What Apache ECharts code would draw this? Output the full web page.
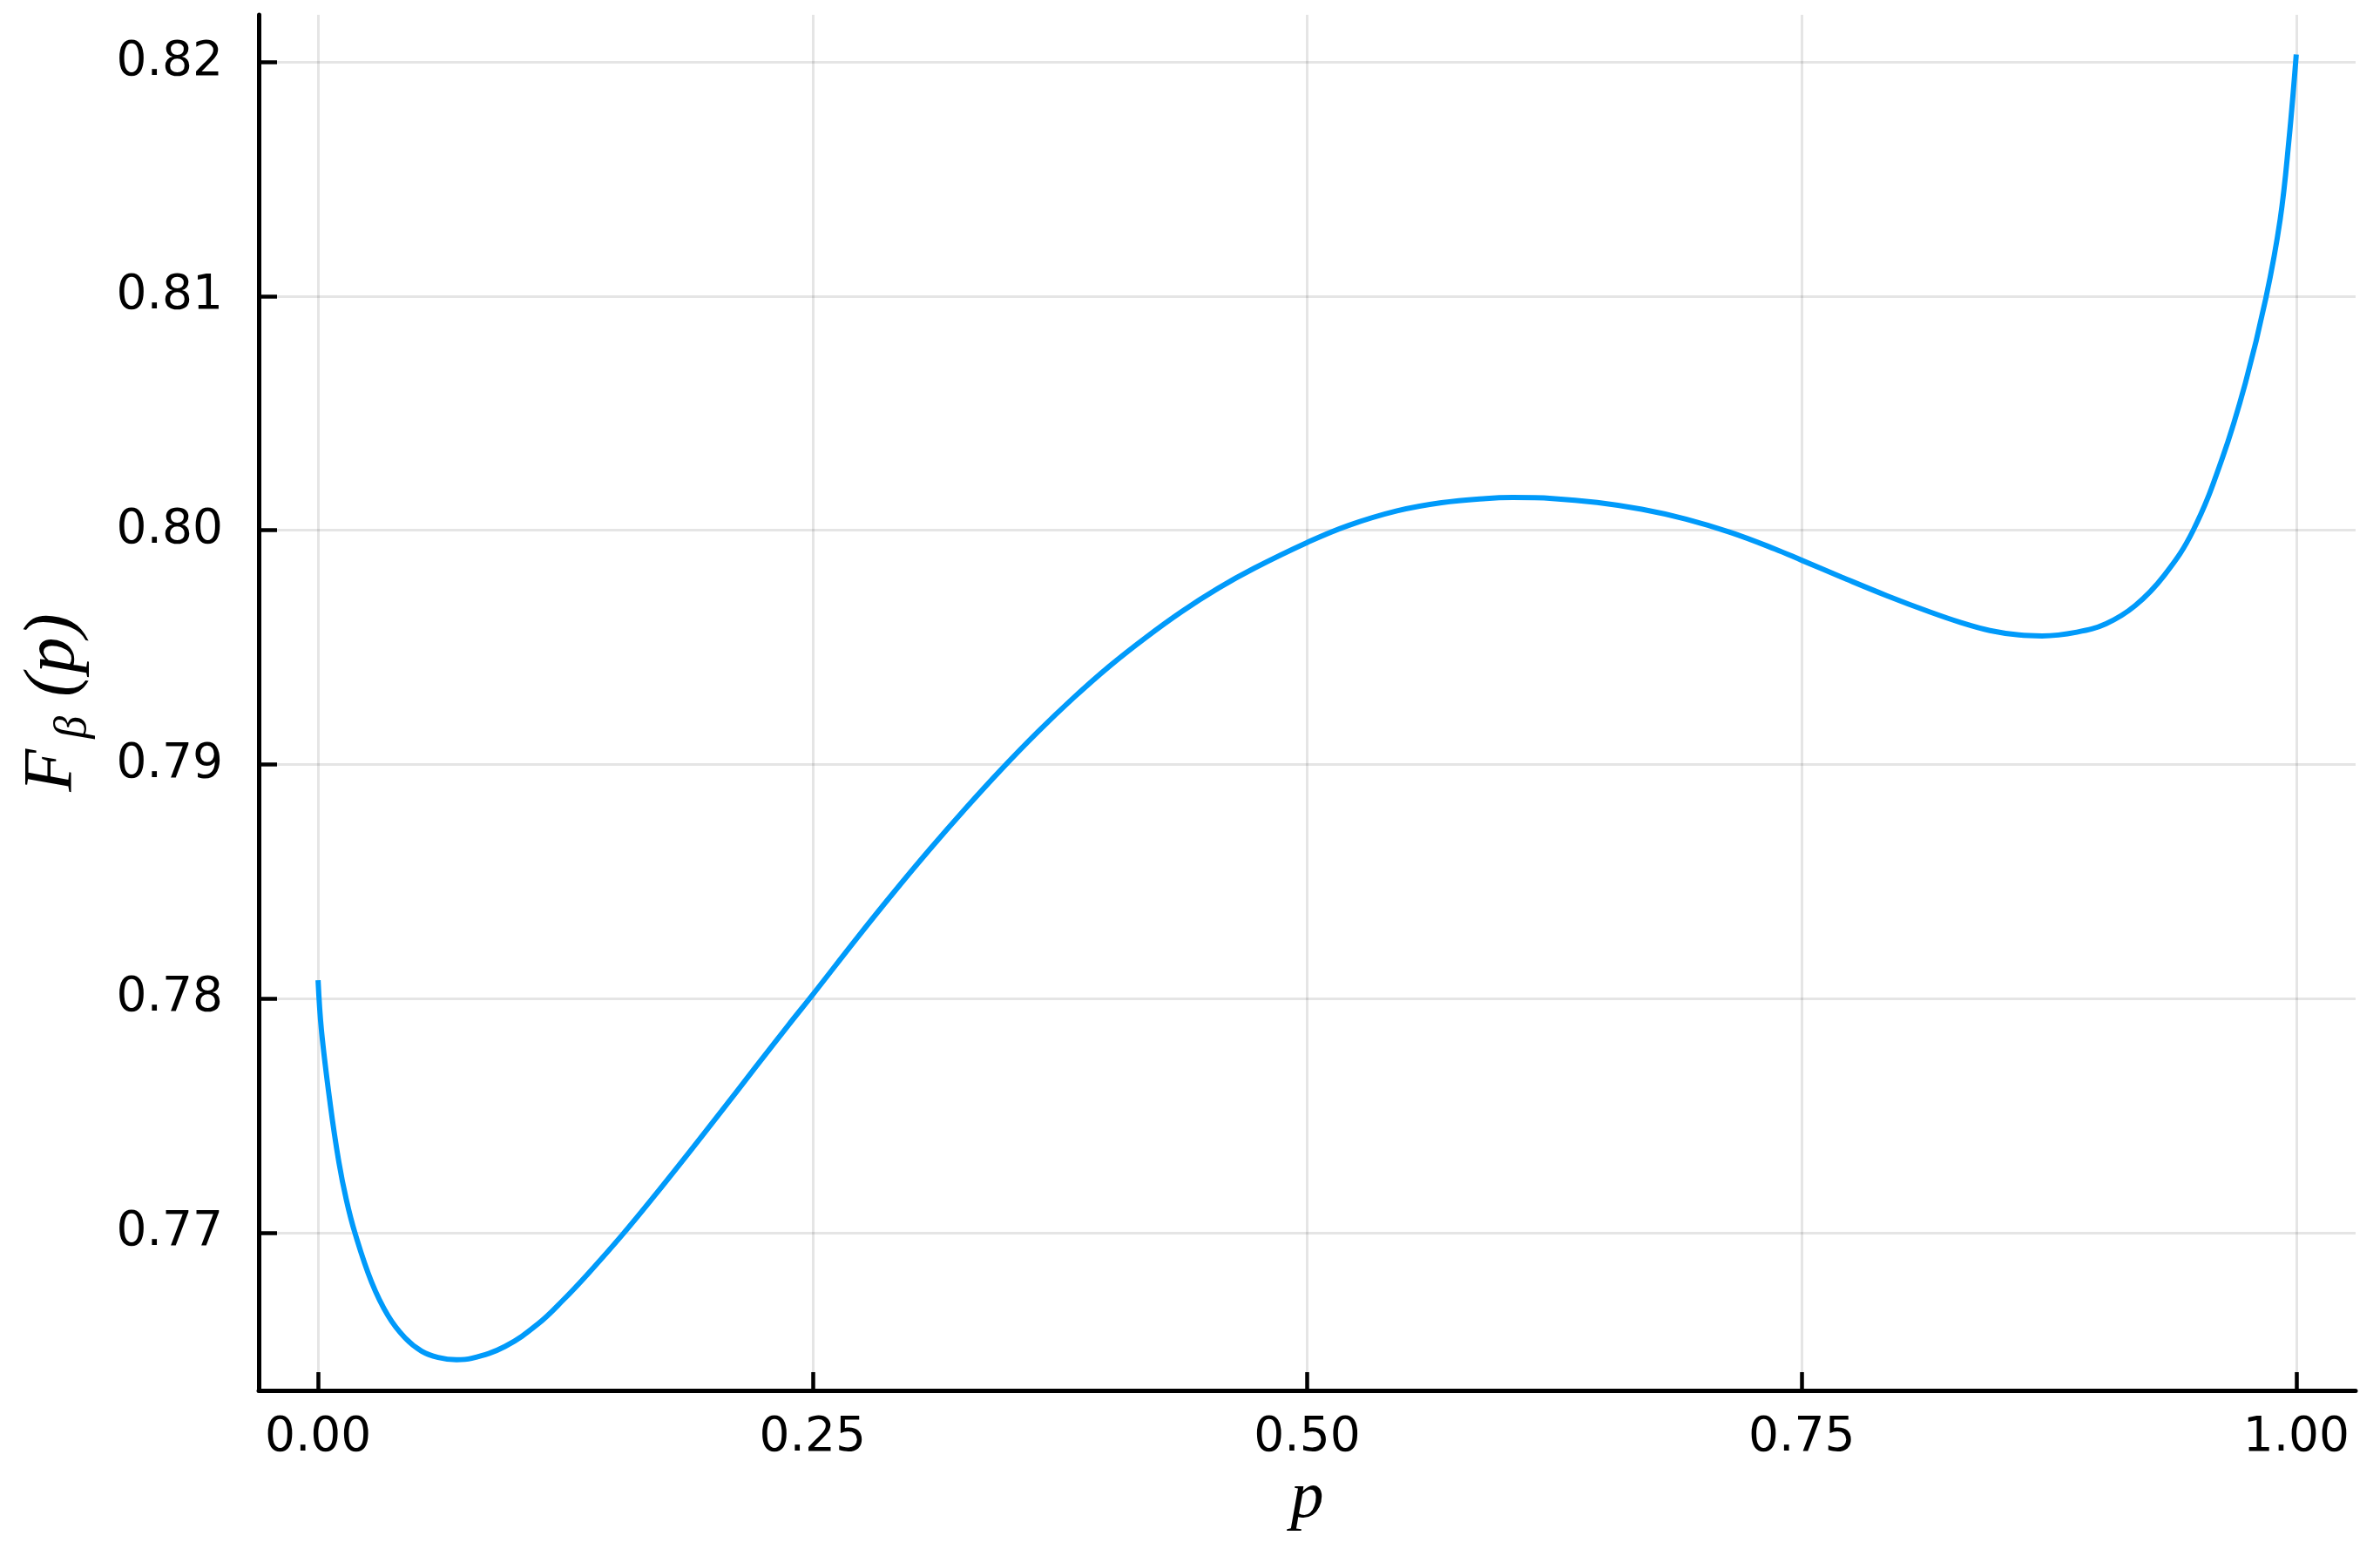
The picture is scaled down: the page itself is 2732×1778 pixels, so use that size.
<!DOCTYPE html>
<html>
<head>
<meta charset="utf-8">
<script src="https://cdn.jsdelivr.net/npm/echarts@6/dist/echarts.min.js"></script>
<style>
    html, body { margin: 0; padding: 0; background: #fff; }
    #chart { width: 2732px; height: 1778px; }
</style>
</head>
<body>
<div id="chart"></div>
<script>
// values
var pValues = [
    0.0000, 0.0017, 0.0061, 0.0105, 0.0143, 0.0186, 0.0270, 0.0354, 0.0439, 0.0523,
    0.0607, 0.0700, 0.0776, 0.0945, 0.1113, 0.1240, 0.1366, 0.1535, 0.1703, 0.1872,
    0.2041, 0.2209, 0.2378, 0.2500, 0.2723, 0.2905, 0.3088, 0.3271, 0.3453, 0.3636,
    0.3818, 0.4001, 0.4184, 0.4366, 0.4549, 0.4732, 0.5000, 0.5206, 0.5454, 0.5679,
    0.5904, 0.6039, 0.6240, 0.6466, 0.6691, 0.6915, 0.7140, 0.7365, 0.7500, 0.7702,
    0.7927, 0.8152, 0.8305, 0.8451, 0.8598, 0.8715, 0.8891, 0.9038, 0.9185, 0.9332,
    0.9479, 0.9626, 0.9743, 0.9846, 0.9919, 0.9963, 1.0000
];
var fValues = [
    0.78078, 0.77865, 0.77552, 0.77302, 0.77140, 0.77000, 0.76790, 0.76645, 0.76551, 0.76494,
    0.76467, 0.76457, 0.76463, 0.76514, 0.76611, 0.76713, 0.76826, 0.76988, 0.77160, 0.77339,
    0.77521, 0.77704, 0.77887, 0.78016, 0.78257, 0.78448, 0.78633, 0.78810, 0.78978, 0.79137,
    0.79284, 0.79420, 0.79542, 0.79653, 0.79752, 0.79838, 0.79948, 0.80020, 0.80083, 0.80118,
    0.80136, 0.80140, 0.80136, 0.80119, 0.80090, 0.80048, 0.79991, 0.79920, 0.79872, 0.79800,
    0.79722, 0.79650, 0.79606, 0.79572, 0.79553, 0.79549, 0.79565, 0.79601, 0.79678, 0.79807,
    0.80000, 0.80308, 0.80630, 0.80990, 0.81330, 0.81667, 0.82033
];
var xTicks = [0, 0.25, 0.5, 0.75, 1];
var yTicks = [0.77, 0.78, 0.79, 0.80, 0.81, 0.82];

var curve = [];
for (var i = 0; i < pValues.length; i++) {
    curve.push([pValues[i], fValues[i]]);
}

var axisBlack = { show: true, onZero: false, lineStyle: { color: '#000', width: 5 } };
var gridGray = { show: true, lineStyle: { color: 'rgba(0,0,0,0.1)', width: 3 } };
var tickStyle = { show: true, inside: true, length: 21, lineStyle: { color: '#000', width: 4.5 } };

var option = {
    backgroundColor: '#fff',
    animation: false,
    grid: { left: 297, top: 17, right: 28, bottom: 182, containLabel: false },
    xAxis: {
        type: 'value',
        min: -0.03,
        max: 1.03,
        name: 'p',
        nameLocation: 'middle',
        nameGap: 86,
        nameTextStyle: {
            fontFamily: 'Liberation Serif',
            fontStyle: 'italic',
            fontSize: 76,
            color: '#000'
        },
        axisLine: axisBlack,
        axisTick: Object.assign({ customValues: xTicks }, tickStyle),
        splitLine: gridGray,
        axisLabel: {
            customValues: xTicks,
            margin: 27,
            fontFamily: 'DejaVu Sans',
            fontSize: 55,
            color: '#000',
            formatter: function (v) { return v.toFixed(2); }
        }
    },
    yAxis: {
        type: 'value',
        min: 0.76326,
        max: 0.82202,
        name: '{f|F}{b|β}{p|(p)}',
        nameLocation: 'middle',
        nameRotate: 90,
        nameGap: 200,
        nameTextStyle: {
            color: '#000',
            rich: {
                f: { fontFamily: 'Liberation Serif', fontStyle: 'italic', fontSize: 80, lineHeight: 76, verticalAlign: 'top' },
                b: { fontFamily: 'Liberation Serif', fontStyle: 'italic', fontSize: 52, lineHeight: 50, padding: [50, 0, 0, 12] },
                p: { fontFamily: 'Liberation Serif', fontStyle: 'italic', fontSize: 82, lineHeight: 76, verticalAlign: 'top', padding: [0, 0, 0, 22] }
            }
        },
        axisLine: axisBlack,
        axisTick: Object.assign({ customValues: yTicks }, tickStyle),
        splitLine: gridGray,
        axisLabel: {
            customValues: yTicks,
            margin: 41,
            fontFamily: 'DejaVu Sans',
            fontSize: 55,
            color: '#000',
            formatter: function (v) { return v.toFixed(2); }
        }
    },
    series: [
        {
            type: 'line',
            data: curve,
            showSymbol: false,
            smooth: 0.4,
            lineStyle: { color: '#009AFA', width: 6 },
            itemStyle: { color: '#009AFA' }
        }
    ]
};

var chart = echarts.init(document.getElementById('chart'));
chart.setOption(option);
</script>
</body>
</html>
